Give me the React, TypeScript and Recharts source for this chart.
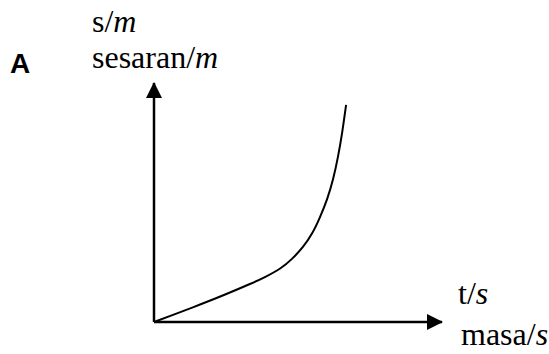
import React from "react";
import { LineChart, Line, XAxis, YAxis } from "recharts";

const timeValues = [0, 7.3, 16.0, 24.7, 33.3, 38.5, 43.8, 47.9, 51.7, 54.9, 57.6, 60.1, 62.2, 63.9, 65.3, 66.7];
const displacementValues = [0, 3.3, 7.3, 11.5, 15.9, 18.8, 22.4, 26.4, 31.4, 37.1, 43.8, 51.4, 59.9, 69.3, 79.0, 90.8];

const panelLabel = "A";
const yLabelShort = ["s/", "m"];
const yLabelLong = ["sesaran/", "m"];
const xLabelShort = ["t/", "s"];
const xLabelLong = ["masa/", "s"];

const data = timeValues.map((t, i) => ({ t, s: displacementValues[i] }));

const serifStyle = { fontFamily: "Liberation Serif" };

export default function App() {
  return (
    <div style={{ position: "absolute", left: 0, top: 0, width: 549, height: 354, background: "#fff" }}>
      <svg width={0} height={0} style={{ position: "absolute" }}>
        <defs>
          <marker
            id="arrowHead"
            markerUnits="userSpaceOnUse"
            markerWidth={16}
            markerHeight={16}
            viewBox="0 0 16 16"
            refX={15}
            refY={8}
            orient="auto-start-reverse"
          >
            <path d="M0,0 L16,8 L0,16 z" fill="#000" />
          </marker>
        </defs>
      </svg>
      <div style={{ position: "absolute", left: 0, top: 0 }}>
        <LineChart
          width={549}
          height={354}
          data={data}
          margin={{ top: 83, right: 107, bottom: 31, left: 153 }}
        >
          <XAxis
            dataKey="t"
            type="number"
            domain={[0, 100]}
            height={1}
            tick={false}
            tickLine={false}
            axisLine={{ stroke: "#000", strokeWidth: 2.5, markerEnd: "url(#arrowHead)" } as any}
          />
          <YAxis
            type="number"
            domain={[0, 100]}
            width={1}
            tick={false}
            tickLine={false}
            axisLine={{ stroke: "#000", strokeWidth: 2.5, markerStart: "url(#arrowHead)" } as any}
          />
          <Line
            type="natural"
            dataKey="s"
            stroke="#000"
            strokeWidth={2}
            dot={false}
            isAnimationActive={false}
          />
        </LineChart>
      </div>
      <svg
        width={549}
        height={354}
        style={{ position: "absolute", left: 0, top: 0, pointerEvents: "none" }}
      >
        <text x={10} y={73} style={{ fontFamily: "Liberation Sans" }} fontWeight="bold" fontSize={28} fill="#000">
          {panelLabel}
        </text>
        <text x={92} y={32} style={serifStyle} fontSize={32} fill="#000">
          {yLabelShort[0]}
          <tspan fontStyle="italic">{yLabelShort[1]}</tspan>
        </text>
        <text x={92} y={68} style={serifStyle} fontSize={32} fill="#000">
          {yLabelLong[0]}
          <tspan fontStyle="italic">{yLabelLong[1]}</tspan>
        </text>
        <text x={458} y={304} style={serifStyle} fontSize={32} fill="#000">
          {xLabelShort[0]}
          <tspan fontStyle="italic">{xLabelShort[1]}</tspan>
        </text>
        <text x={461} y={345} style={serifStyle} fontSize={32} fill="#000">
          {xLabelLong[0]}
          <tspan fontStyle="italic">{xLabelLong[1]}</tspan>
        </text>
      </svg>
    </div>
  );
}
